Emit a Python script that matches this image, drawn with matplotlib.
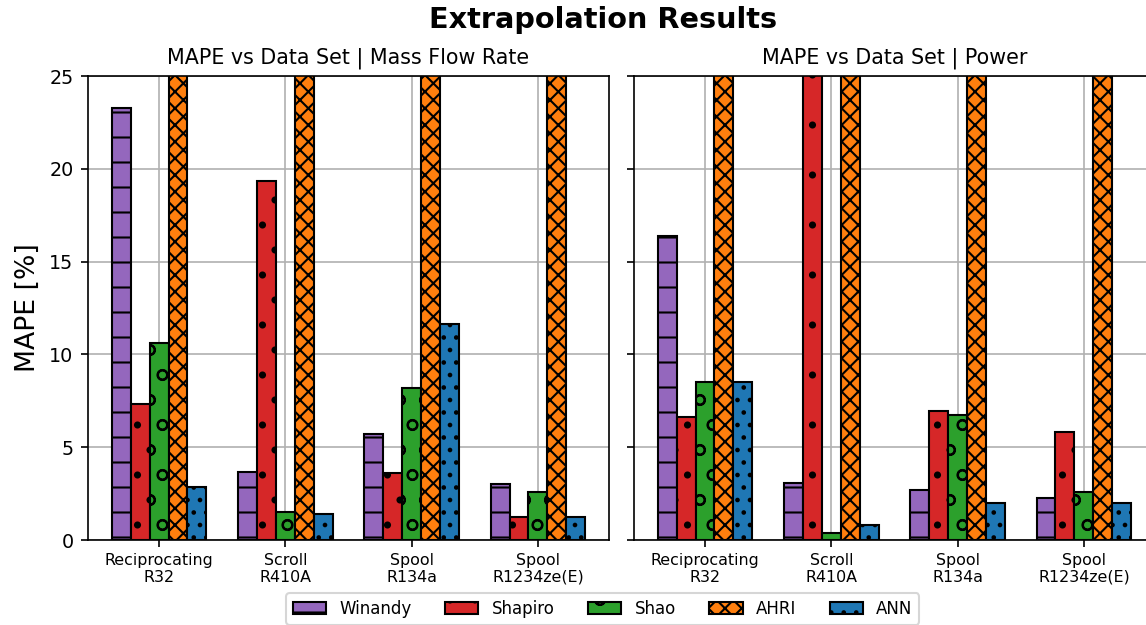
import numpy as np
import matplotlib
matplotlib.use("Agg")
import matplotlib.pyplot as plt

# data sets on the x axis
datasets = ["Reciprocating\nR32", "Scroll\nR410A", "Spool\nR134a", "Spool\nR1234ze(E)"]
models = ["Winandy", "Shapiro", "Shao", "AHRI", "ANN"]
colors = ["tab:purple", "tab:red", "tab:green", "tab:orange", "tab:blue"]
hatches = ["-", ".", "o", "xxx", ".."]

# MAPE [%] per model, mass flow rate
mape_mdot = {
    "Winandy": [23.3, 3.66, 5.73, 3.03],
    "Shapiro": [7.33, 19.36, 3.59, 1.24],
    "Shao":    [10.6, 1.49, 8.21, 2.60],
    "AHRI":    [48.0, 41.0, 37.0, 52.0],
    "ANN":     [2.85, 1.42, 11.64, 1.24],
}

# MAPE [%] per model, power
mape_power = {
    "Winandy": [16.38, 3.09, 2.68, 2.28],
    "Shapiro": [6.61, 31.0, 6.93, 5.80],
    "Shao":    [8.53, 0.38, 6.75, 2.60],
    "AHRI":    [44.0, 39.0, 35.0, 46.0],
    "ANN":     [8.53, 0.83, 1.98, 1.98],
}

fig = plt.figure(figsize=(7.64, 4.1667), dpi=150)
ax1 = fig.add_axes([0.0768, 0.136, 0.4546, 0.7424])
ax2 = fig.add_axes([0.5532, 0.136, 0.4546, 0.7424], sharey=ax1)

x = np.arange(len(datasets))
width = 0.15

def draw(ax, data, title):
    for i, m in enumerate(models):
        ax.bar(x + (i - 2) * width, data[m], width, color=colors[i],
               hatch=hatches[i], edgecolor="black", label=m)
    ax.set_title(title, fontsize=9.9)
    ax.set_xticks(x)
    ax.set_xticklabels(datasets, fontsize=7.6)
    ax.tick_params(axis="x", pad=2.5)
    ax.grid(True)
    ax.set_axisbelow(True)
    ax.set_ylim(0, 25)

draw(ax1, mape_mdot, "MAPE vs Data Set | Mass Flow Rate")
draw(ax2, mape_power, "MAPE vs Data Set | Power")

ax1.set_yticks([0, 5, 10, 15, 20, 25])
ax1.tick_params(axis="y", labelsize=9.2)
ax2.tick_params(axis="y", labelleft=False)
ax1.set_ylabel("MAPE [%]", fontsize=12.8)

fig.suptitle("Extrapolation Results", fontsize=13.8, fontweight="bold", x=0.526, y=0.99)
handles, labels = ax1.get_legend_handles_labels()
fig.legend(handles, labels, loc="lower center", bbox_to_anchor=(0.526, -0.013),
           ncol=5, fontsize=8)

fig.savefig("out.png", dpi=150)
